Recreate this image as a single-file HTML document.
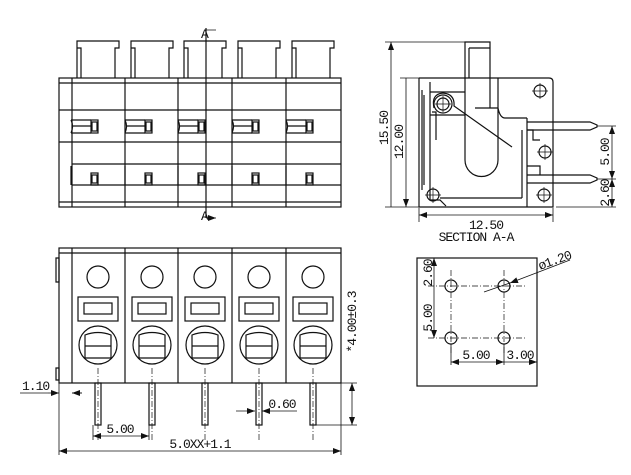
<!DOCTYPE html>
<html><head><meta charset="utf-8"><style>
html,body{margin:0;padding:0;background:#fff}
svg{display:block}
text{font-family:"Liberation Mono","DejaVu Sans Mono",monospace;font-size:13px;fill:#111;letter-spacing:-1px}
</style></head><body>
<svg width="631" height="475" viewBox="0 0 631 475" xmlns="http://www.w3.org/2000/svg">
<defs>
<marker id="ar" markerWidth="8" markerHeight="6" refX="8" refY="3" orient="auto-start-reverse" markerUnits="userSpaceOnUse"><path d="M0 0L8 3L0 6Z" fill="#111"/></marker>
<g id="tab"><path d="M-21 78 V41 H21 V48 H17 V78 M-21 48 H-17 V78" fill="none"/></g>
<g id="ch"><circle r="6"/><path d="M-8 0H8M0 -8V8" stroke-width="0.7"/></g>
<g id="bmod">
<circle cx="0" cy="277" r="11"/>
<rect x="-20" y="297" width="40" height="24"/>
<rect x="-14" y="303" width="28" height="11"/>
<circle cx="0" cy="345" r="19"/>
<path d="M-13 335 Q0 330 13 335 V358 H-13 Z M-13 346 H13"/>
<rect x="-3" y="383" width="6" height="42"/>
<line x1="0" y1="368" x2="0" y2="440" stroke-dasharray="6 2 1 2" stroke-width="0.7"/>
</g>
<g id="sq"><rect x="-7" y="120" width="7" height="13"/><rect x="-6" y="122" width="5" height="9"/><path d="M-27 120 Q-24 126 -27 133 M-25 126 H-7 M-27 120 H-7 M-27 133 H-7"/>
<rect x="-7" y="173" width="7" height="12"/><rect x="-6" y="175" width="5" height="8"/><path d="M-27 166 V185"/></g>
</defs>
<g fill="none" stroke="#111" stroke-width="1.2">
<!-- TOP VIEW -->
<use href="#tab" x="98"/><use href="#tab" x="152"/><use href="#tab" x="205"/><use href="#tab" x="259"/><use href="#tab" x="313"/>
<rect x="59" y="78" width="282" height="129"/>
<line x1="72" y1="78" x2="72" y2="207"/>
<path d="M125 78V207M178 78V207M232 78V207M286 78V207"/>
<path d="M59 83H341M59 110H341M59 142H341M72 164H341M72 185H341M59 202H341"/>
<g transform="translate(98,0)"><use href="#sq"/></g>
<g transform="translate(152,0)"><use href="#sq"/></g>
<g transform="translate(205,0)"><use href="#sq"/></g>
<g transform="translate(259,0)"><use href="#sq"/></g>
<g transform="translate(313,0)"><use href="#sq"/></g>
<line x1="206" y1="28" x2="206" y2="218"/>
<path d="M206 30H216M206 218H216" stroke-width="0.8" marker-end="url(#ar)"/>
<!-- SECTION -->
<path d="M419 78H549Q553 78 553 82V207H419V78"/>
<path d="M465 78V42H490V78"/>
<path d="M469 48V78 M469 48 H490"/>
<path d="M430 82V200H440L446 206 M430 92H465V115H430 M465 92V78"/>
<path d="M422 90V190 M424 95V185"/>
<path d="M465 115V160A16 16 0 0 0 498 160V108 H475 M490 78V108 M498 78V108 Q500 118 505 118 H527"/>
<path d="M527 118V207 M522 130V198 M527 130H533V140H540 M527 166H540V175"/>
<path d="M440 198H522"/>
<circle cx="443" cy="104" r="9"/><use href="#ch" x="443" y="104"/>
<path d="M434 108Q431 94 443 93Q455 94 454 106L512 147" />
<path d="M432 112L436 112 L436 140"/>
<use href="#ch" x="540" y="91"/><use href="#ch" x="433" y="195"/><use href="#ch" x="544" y="195"/><use href="#ch" x="545" y="152"/>
<path d="M527 122H590L597 125V127L590 130H527 M527 175H590L597 178V180L590 183H527"/>
<!-- dims section -->
<g stroke-width="0.8">
<path d="M385 42H465M400 78H419M385 207H419"/>
<path d="M391 42V207M406 78V207" marker-start="url(#ar)" marker-end="url(#ar)"/>
<path d="M419 208V222M553 208V222"/>
<path d="M419 215H553" marker-start="url(#ar)" marker-end="url(#ar)"/>
<path d="M597 126H616M597 179H616M556 207H616"/>
<path d="M612 126V179" marker-start="url(#ar)" marker-end="url(#ar)"/>
<path d="M612 179V207" marker-start="url(#ar)" marker-end="url(#ar)"/>
</g>
<!-- BOTTOM VIEW -->
<rect x="59" y="248" width="282" height="135"/>
<line x1="59" y1="253" x2="341" y2="253"/>
<path d="M72 248V383M125 248V383M178 248V383M232 248V383M286 248V383"/>
<path d="M56 258H59V282H56Z M56 368H59V380H56Z"/>
<use href="#bmod" x="98"/><use href="#bmod" x="152"/><use href="#bmod" x="205"/><use href="#bmod" x="259"/><use href="#bmod" x="313"/>
<g stroke-width="0.8">
<path d="M59 383V455M341 383V455"/>
<path d="M59 451H341" marker-start="url(#ar)" marker-end="url(#ar)"/>
<path d="M93 425V440M149 425V440"/>
<path d="M93 436H149" marker-start="url(#ar)" marker-end="url(#ar)"/>
<path d="M20 393H48M72 393H82"/>
<path d="M48 393H59" marker-end="url(#ar)"/><path d="M82 393H72" marker-end="url(#ar)"/>
<path d="M236 411H255" marker-end="url(#ar)"/><path d="M297 411H262" marker-end="url(#ar)"/>
<path d="M313 425H357M313 383H357"/>
<path d="M352 383V425" marker-start="url(#ar)" marker-end="url(#ar)"/>
</g>
<!-- HOLE PATTERN -->
<rect x="417" y="258" width="120" height="128"/>
<circle cx="451" cy="286" r="6"/><circle cx="504" cy="286" r="6"/><circle cx="451" cy="338" r="6"/><circle cx="504" cy="338" r="6"/>
<g stroke-width="0.7" stroke-dasharray="6 2 1 2">
<path d="M428 286H525M428 338H525M451 270V355M504 270V355"/>
</g>
<g stroke-width="0.8">
<path d="M434 258V338" marker-start="url(#ar)" marker-end="url(#ar)"/>
<path d="M451 344V365M504 344V365"/>
<path d="M451 362H504" marker-start="url(#ar)" marker-end="url(#ar)"/>
<path d="M504 362H537" marker-end="url(#ar)"/>
<path d="M570 260L510 283" marker-end="url(#ar)"/><path d="M510 283L484 292"/>
</g>
</g>
<g>
<text x="201" y="38" font-size="11">A</text>
<text x="201" y="220" font-size="11">A</text>
<text transform="translate(388,128) rotate(-90)" text-anchor="middle">15.50</text>
<text transform="translate(403,142) rotate(-90)" text-anchor="middle">12.00</text>
<text x="486" y="229" text-anchor="middle">12.50</text>
<text x="476" y="241" text-anchor="middle">SECTION A-A</text>
<text transform="translate(609,152) rotate(-90)" text-anchor="middle">5.00</text>
<text transform="translate(609,193) rotate(-90)" text-anchor="middle">2.60</text>
<text x="22" y="390">1.10</text>
<text x="120" y="433" text-anchor="middle">5.00</text>
<text x="282" y="408" text-anchor="middle">0.60</text>
<text x="200" y="448" text-anchor="middle">5.0XX+1.1</text>
<text transform="translate(356,322) rotate(-90)" text-anchor="middle">*4.00±0.3</text>
<text transform="translate(432,273) rotate(-90)" text-anchor="middle">2.60</text>
<text transform="translate(432,318) rotate(-90)" text-anchor="middle">5.00</text>
<text x="476" y="359" text-anchor="middle">5.00</text>
<text x="520" y="359" text-anchor="middle">3.00</text>
<text transform="translate(540,270) rotate(-20)">ø1.20</text>
</g>
</svg>
</body></html>
